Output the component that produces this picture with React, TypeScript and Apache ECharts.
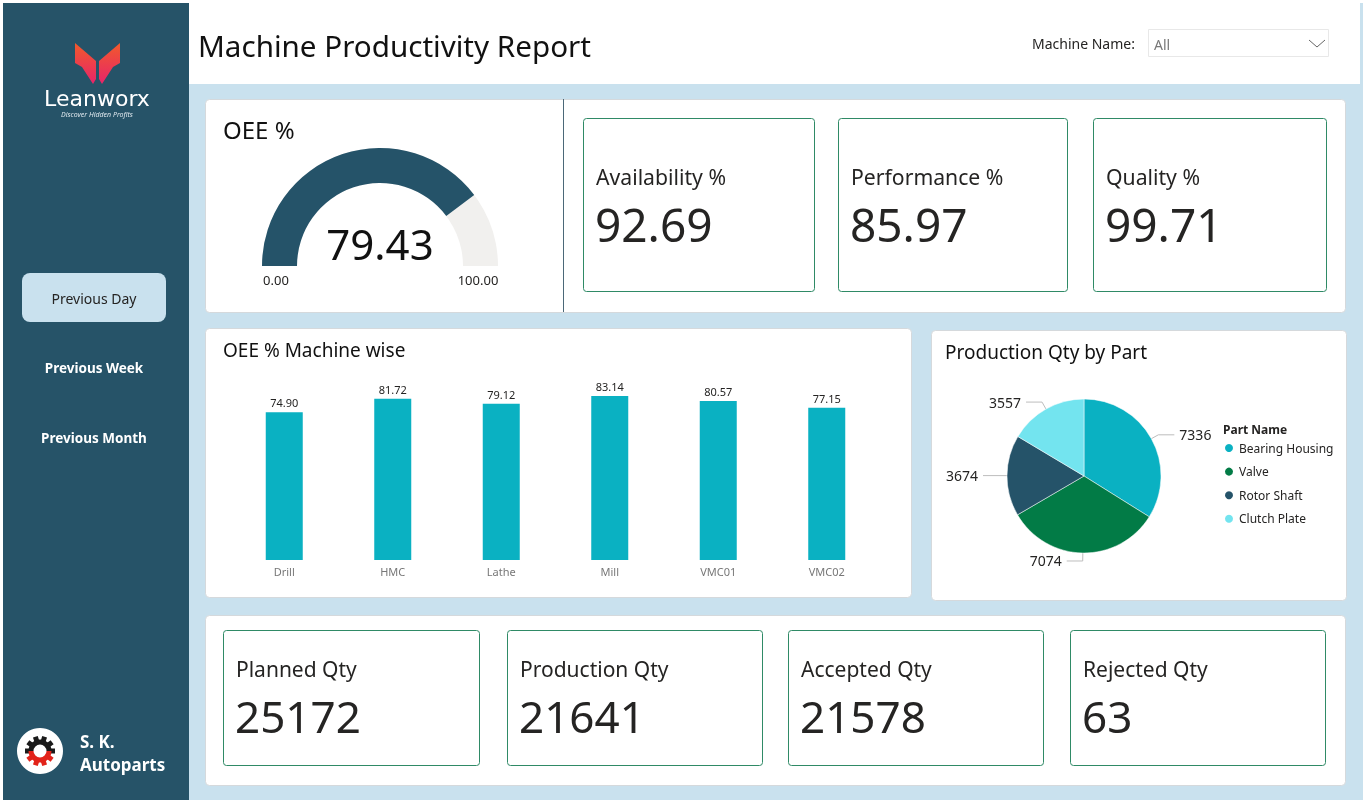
import React, { useEffect, useRef } from "react";
import * as echarts from "echarts";

const FONT = "Noto Sans";

const machines = ["Drill", "HMC", "Lathe", "Mill", "VMC01", "VMC02"];
const machineOee = [74.9, 81.72, 79.12, 83.14, 80.57, 77.15];
const parts = ["Bearing Housing", "Valve", "Rotor Shaft", "Clutch Plate"];
const partQty = [7336, 7074, 3674, 3557];
const partColors = ["#0ab1c2", "#027b46", "#255369", "#73e4ef"];
const oeeValue = 79.43;
const oeeMinLabel = "0.00";
const oeeMaxLabel = "100.00";
const topKpiLabels = ["Availability %", "Performance %", "Quality %"];
const topKpiValues = ["92.69", "85.97", "99.71"];
const qtyLabels = ["Planned Qty", "Production Qty", "Accepted Qty", "Rejected Qty"];
const qtyValues = ["25172", "21641", "21578", "63"];
const navItems = ["Previous Day", "Previous Week", "Previous Month"];

const DARK = "#265368";
const LIGHT = "#c9e1ee";

function txt(text: string, x: number, y: number, size: number, fill: string, opts: any = {}) {
  return {
    type: "text",
    z: 100,
    style: {
      text,
      x,
      y,
      fill,
      fontSize: size,
      fontFamily: opts.family || FONT,
      fontWeight: opts.weight || "normal",
      fontStyle: opts.style || "normal",
      textAlign: opts.align || "left",
      textVerticalAlign: "middle",
    },
  };
}

function panel(x: number, y: number, w: number, h: number, stroke = "#d5d9dc") {
  return {
    type: "rect",
    z: 1,
    shape: { x: x + 0.5, y: y + 0.5, width: w, height: h, r: 4 },
    style: { fill: "#ffffff", stroke, lineWidth: 1 },
  };
}

function buildGraphics() {
  const g: any[] = [];
  // backgrounds
  g.push({ type: "rect", z: 0, shape: { x: 0, y: 0, width: 1365, height: 805 }, style: { fill: "#ffffff" } });
  g.push({ type: "rect", z: 0, shape: { x: 189, y: 84, width: 1174, height: 716 }, style: { fill: LIGHT } });
  g.push({ type: "rect", z: 0, shape: { x: 1360, y: 3, width: 3, height: 797 }, style: { fill: LIGHT } });
  g.push({ type: "rect", z: 0, shape: { x: 3, y: 3, width: 186, height: 797 }, style: { fill: DARK } });

  // logo butterfly
  const grad = new echarts.graphic.LinearGradient(0, 0, 0, 1, [
    { offset: 0, color: "#f15a2b" },
    { offset: 1, color: "#e8246a" },
  ]);
  g.push({
    type: "polygon",
    z: 10,
    shape: { points: [[75, 43], [96, 61], [96, 79], [93, 84], [82, 67], [75, 63]] },
    style: { fill: grad },
  });
  g.push({
    type: "polygon",
    z: 10,
    shape: { points: [[120, 43], [99, 61], [99, 79], [102, 84], [113, 67], [120, 63]] },
    style: { fill: grad },
  });
  g.push(txt("Leanworx", 97, 98, 22, "#ffffff", { align: "center", family: "DejaVu Sans" }));
  g.push(txt("Discover Hidden Profits", 97, 114, 7, "#dfe8ee", { align: "center", style: "italic" }));

  // nav
  g.push({
    type: "rect",
    z: 5,
    shape: { x: 22, y: 273, width: 144, height: 49, r: 8 },
    style: { fill: LIGHT },
  });
  g.push(txt(navItems[0], 94, 298, 14, "#252423", { align: "center" }));
  g.push(txt(navItems[1], 94, 368, 13.5, "#ffffff", { align: "center", weight: "bold" }));
  g.push(txt(navItems[2], 94, 438, 13.5, "#ffffff", { align: "center", weight: "bold" }));

  // company logo
  const cx = 40, cy = 751;
  g.push({ type: "circle", z: 10, shape: { cx, cy, r: 23 }, style: { fill: "#ffffff" } });
  for (let i = 0; i < 10; i++) {
    const a = (i / 10) * Math.PI * 2;
    const upper = Math.sin(a) < 0.1;
    g.push({
      type: "rect",
      z: 11,
      x: cx,
      y: cy,
      rotation: -a,
      shape: { x: 9, y: -2.5, width: 6, height: 5 },
      style: { fill: upper ? "#1a1a1a" : "#e2231a" },
    });
  }
  g.push({ type: "arc", z: 11, shape: { cx, cy, r: 9, startAngle: Math.PI, endAngle: Math.PI * 2 }, style: { stroke: "#1a1a1a", lineWidth: 5, fill: "none" } });
  g.push({ type: "arc", z: 11, shape: { cx, cy, r: 9, startAngle: 0, endAngle: Math.PI }, style: { stroke: "#e2231a", lineWidth: 5, fill: "none" } });
  g.push(txt("S. K.", 80, 741, 17, "#ffffff", { weight: "bold" }));
  g.push(txt("Autoparts", 80, 764, 17, "#ffffff", { weight: "bold" }));

  // header
  g.push(txt("Machine Productivity Report", 198, 45, 29.6, "#111111"));
  g.push(txt("Machine Name:", 1032, 43, 14, "#252423"));
  g.push({
    type: "rect",
    z: 5,
    shape: { x: 1148.5, y: 29.5, width: 180, height: 27 },
    style: { fill: "#ffffff", stroke: "#e8e8e8", lineWidth: 1 },
  });
  g.push(txt("All", 1154, 44, 14, "#777777"));
  g.push({
    type: "polyline",
    z: 10,
    shape: { points: [[1309, 40], [1317, 47], [1325, 40]] },
    style: { stroke: "#666666", lineWidth: 1, fill: "none" },
  });

  // panels
  g.push(panel(205, 99, 1140, 213));
  g.push({ type: "line", z: 3, shape: { x1: 563.5, y1: 99, x2: 563.5, y2: 312 }, style: { stroke: "#4b6878", lineWidth: 1 } });
  g.push(panel(205, 328, 706, 269));
  g.push(panel(931, 330, 415, 270));
  g.push(panel(205, 615, 1140, 170));

  // gauge panel texts
  g.push(txt("OEE %", 223, 129, 24, "#111111"));
  g.push(txt(oeeMinLabel, 276, 280, 13, "#252423", { align: "center" }));
  g.push(txt(oeeMaxLabel, 478, 280, 13, "#252423", { align: "center" }));

  // top kpi cards
  const topX = [583, 838, 1093];
  const topW = [231, 229, 233];
  topKpiLabels.forEach((l, i) => {
    g.push({
      type: "rect",
      z: 3,
      shape: { x: topX[i] + 0.5, y: 118.5, width: topW[i], height: 173, r: 3 },
      style: { fill: "#ffffff", stroke: "#2f8a66", lineWidth: 1 },
    });
    g.push(txt(l, topX[i] + 13, 176, 21.2, "#252423"));
    g.push(txt(topKpiValues[i], topX[i] + 12, 224, 46, "#252423"));
  });

  // bottom kpi cards
  const botX = [223, 507, 788, 1070];
  const botW = [256, 255, 255, 255];
  qtyLabels.forEach((l, i) => {
    g.push({
      type: "rect",
      z: 3,
      shape: { x: botX[i] + 0.5, y: 630.5, width: botW[i], height: 135, r: 3 },
      style: { fill: "#ffffff", stroke: "#2f8a66", lineWidth: 1 },
    });
    g.push(txt(l, botX[i] + 13, 669, 21, "#252423"));
    g.push(txt(qtyValues[i], botX[i] + 12, 716, 44, "#252423"));
  });

  // chart titles
  g.push(txt("OEE % Machine wise", 223, 350, 19, "#111111"));
  g.push(txt("Production Qty by Part", 945, 352, 19, "#111111"));
  g.push(txt("Part Name", 1223, 429, 12, "#252423", { weight: "bold" }));

  return g;
}

export default function App() {
  const ref = useRef<HTMLDivElement>(null);
  useEffect(() => {
    if (!ref.current) return;
    const chart = echarts.init(ref.current, undefined, { renderer: "svg" });
    const option: any = {
      animation: false,
      textStyle: { fontFamily: FONT },
      graphic: { elements: buildGraphics() },
      grid: { left: 230, width: 651, top: 382.4, height: 177.6 },
      xAxis: {
        type: "category",
        data: machines,
        axisLine: { show: false },
        axisTick: { show: false },
        axisLabel: { color: "#777777", fontSize: 11, margin: 6, fontFamily: FONT },
        z: 5,
      },
      yAxis: { type: "value", min: 0, max: 90, show: false, splitLine: { show: false } },
      legend: {
        data: parts,
        orient: "vertical",
        left: 1223,
        top: 442,
        itemWidth: 10,
        itemHeight: 10,
        itemGap: 11.6,
        icon: "circle",
        padding: 0,
        textStyle: { fontSize: 12, color: "#252423", fontFamily: FONT },
        z: 5,
      },
      series: [
        {
          type: "bar",
          z: 5,
          data: machineOee,
          barWidth: 37,
          itemStyle: { color: "#0ab1c2" },
          label: {
            show: true,
            position: "top",
            distance: 4,
            formatter: (p: any) => Number(p.value).toFixed(2),
            fontSize: 11,
            color: "#252423",
            fontFamily: FONT,
          },
        },
        {
          type: "pie",
          z: 5,
          center: [1084, 476],
          radius: 77,
          startAngle: 90,
          clockwise: true,
          data: parts.map((n, i) => ({ name: n, value: partQty[i], itemStyle: { color: partColors[i] } })),
          label: { formatter: "{c}", fontSize: 14, color: "#252423", fontFamily: FONT },
          labelLine: { length: 8, length2: 16, lineStyle: { color: "#bdbdbd", width: 1 } },
          itemStyle: { borderColor: "#ffffff", borderWidth: 0.5 },
        },
        {
          type: "gauge",
          z: 5,
          center: [380, 266],
          radius: 118,
          startAngle: 180,
          endAngle: 0,
          min: 0,
          max: 100,
          progress: { show: true, width: 35, itemStyle: { color: "#255369" } },
          axisLine: { lineStyle: { width: 35, color: [[1, "#f1f0ee"]] } },
          pointer: { show: false },
          axisTick: { show: false },
          splitLine: { show: false },
          axisLabel: { show: false },
          anchor: { show: false },
          title: { show: false },
          detail: {
            offsetCenter: [0, -23],
            fontSize: 42,
            color: "#111111",
            fontFamily: FONT,
            fontWeight: "normal",
            formatter: (v: number) => v.toFixed(2),
          },
          data: [{ value: oeeValue }],
        },
      ],
    };
    chart.setOption(option);
    return () => chart.dispose();
  }, []);
  return (
    <div
      ref={ref}
      style={{ position: "fixed", left: 0, top: 0, width: 1365, height: 805 }}
    />
  );
}
